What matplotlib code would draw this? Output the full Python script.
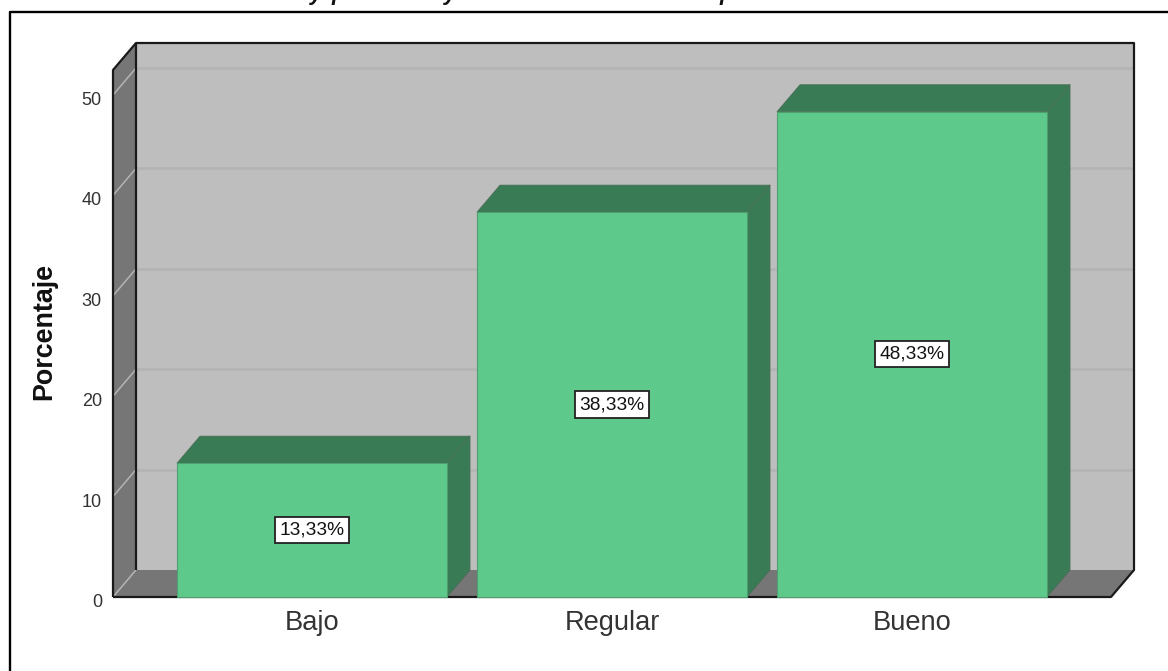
import matplotlib
matplotlib.use("Agg")
import matplotlib.pyplot as plt
from matplotlib.patches import Polygon
from matplotlib.lines import Line2D
from matplotlib.transforms import ScaledTranslation

plt.rcParams['font.family'] = ['Liberation Sans', 'DejaVu Sans']

categories = ["Bajo", "Regular", "Bueno"]
values = [13.33, 38.33, 48.33]
value_labels = ["13,33%", "38,33%", "48,33%"]
y_ticks = [0, 10, 20, 30, 40, 50]
y_label = "Porcentaje"
title_fragments = ["y", "p", "y", "p"]      # only the tails of the cut-off title are visible
title_fragment_px = [310, 331, 444, 719]

W, H = 1168, 671
FRONT, DARK = "#5DCA8B", "#397B54"
WALL, SIDE = "#BEBEBE", "#767676"

fig = plt.figure(figsize=(W / 100, H / 100), dpi=100, facecolor="white")
L, R, T, B = 113, 1111, 70, 597
ax = fig.add_axes([L / W, 1 - B / H, (R - L) / W, (B - T) / H])
ax.set_xlim((L - 312) / 300, (R - 312) / 300)
ax.set_ylim(0, (B - T) / 10.04)
ax.patch.set_visible(False)
for s in ax.spines.values():
    s.set_visible(False)

x0, x1 = ax.get_xlim()
y0, y1 = ax.get_ylim()
dx = 23 / 300        # depth of the 3D effect in x units
dy = 27 / 10.04      # depth of the 3D effect in y units


def poly(pts, color, z, edge=None, lw=0.0):
    ax.add_patch(Polygon(pts, closed=True, facecolor=color,
                         edgecolor=edge if edge else color, linewidth=lw,
                         zorder=z, clip_on=False, joinstyle="round"))


def line(xs, ys, color, lw, z, **kw):
    ax.add_line(Line2D(xs, ys, color=color, linewidth=lw, zorder=z, clip_on=False,
                       solid_capstyle="butt", **kw))


# chart box: back wall, floor, side wall
poly([(x0 + dx, y0 + dy), (x1 + dx, y0 + dy), (x1 + dx, y1 + dy), (x0 + dx, y1 + dy)], WALL, 1)
poly([(x0, y0), (x1, y0), (x1 + dx, y0 + dy), (x0 + dx, y0 + dy)], SIDE, 1.1)
poly([(x0, y0), (x0 + dx, y0 + dy), (x0 + dx, y1 + dy), (x0, y1)], SIDE, 1.1)

# gridlines
for t in y_ticks[1:]:
    line([x0 + dx, x1 + dx], [t + dy, t + dy], "#B3B3B3", 1.8, 1.5)
for t in y_ticks:
    line([x0, x0 + dx], [t, t + dy], "#B4B4B4", 1.1, 1.5)

# frame lines
line([x0, x0, x0 + dx, x1 + dx, x1 + dx, x1, x0],
     [y0, y1, y1 + dy, y1 + dy, y0 + dy, y0, y0], "#1A1A1A", 1.6, 2, solid_joinstyle="round")
line([x0 + dx, x0 + dx], [y0 + dy, y1 + dy], "#1A1A1A", 1.6, 2)

# bars
width = 0.9
for i, v in enumerate(values):
    l, r = i - width / 2, i + width / 2
    poly([(l, v), (r, v), (r + dx, v + dy), (l + dx, v + dy)], DARK, 3, edge="#4A6F58", lw=0.6)
    poly([(r, 0), (r + dx, dy), (r + dx, v + dy), (r, v)], DARK, 3, edge="#4A6F58", lw=0.6)
ax.bar(range(len(values)), values, width=width, color=FRONT,
       edgecolor="#4E9E70", linewidth=0.8, zorder=4, clip_on=False)

# value labels
for i, (v, s) in enumerate(zip(values, value_labels)):
    ax.text(i, v / 2, s, ha="center", va="center", fontsize=13.8, color="#111111", zorder=6,
            bbox=dict(boxstyle="square,pad=0.24", facecolor="white", edgecolor="#222222", linewidth=1.3))

# axes text
ax.set_xticks(range(len(categories)), categories)
ax.set_yticks(y_ticks)
ax.tick_params(axis="x", length=0, pad=9, labelsize=19.6, labelcolor="#333333")
ax.tick_params(axis="y", length=0, pad=8, labelsize=13, labelcolor="#333333")
for lab in ax.get_yticklabels():
    lab.set_transform(lab.get_transform() + ScaledTranslation(0, -3.5 / 100, fig.dpi_scale_trans))
ax.set_ylabel(y_label, fontsize=19.4, fontweight="bold", color="#111111")
ax.yaxis.set_label_coords((57 - L) / (R - L), (B - 332) / (B - T))

# page border: only the top and left rules fall inside the crop
fig.add_artist(Line2D([10 / W, 10 / W, 1], [0, 1 - 12 / H, 1 - 12 / H], color="black", linewidth=1.7,
                      transform=fig.transFigure))

# cut-off title at the upper edge of the page
for s, px in zip(title_fragments, title_fragment_px):
    fig.text(px / W, 1.0, s, fontsize=16, fontstyle="italic", fontweight="bold", color="#111111",
             ha="left", va="baseline")

fig.savefig("out.png", dpi=100)
